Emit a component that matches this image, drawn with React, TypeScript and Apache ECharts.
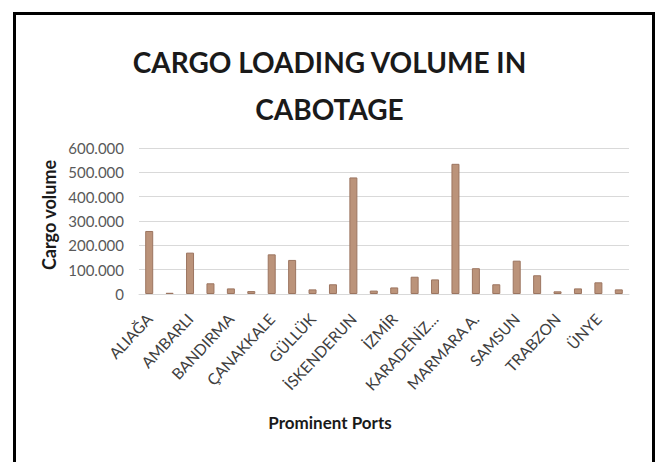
import React, { useEffect, useRef } from "react";
import * as echarts from "echarts";

// Ports in alphabetical order; only every other name is printed on the axis.
const ports: string[] = [
  "ALIAĞA", "ALTINOLUK", "AMBARLI", "ANTALYA", "BANDIRMA", "BARTIN",
  "ÇANAKKALE", "GEMLİK", "GÜLLÜK", "HOPA", "İSKENDERUN", "İSTANBUL",
  "İZMİR", "İZMİT", "KARADENİZ EREĞLİ", "KOCAELİ", "MARMARA A.", "MERSİN",
  "SAMSUN", "TEKİRDAĞ", "TRABZON", "TUZLA", "ÜNYE", "ZONGULDAK",
];

// Cargo loaded in cabotage per port
const cargoVolume: number[] = [
  259000, 5000, 170000, 44000, 23000, 12000,
  163000, 140000, 19000, 40000, 479000, 14000,
  27000, 71000, 60000, 535000, 106000, 40000,
  137000, 77000, 11000, 23000, 48000, 19000,
];

const yTicks = { min: 0, max: 600000, step: 100000 };

const FONT = "Lato, 'Open Sans', sans-serif";

function formatThousands(v: number): string {
  return v === 0 ? "0" : String(v).replace(/\B(?=(\d{3})+(?!\d))/g, ".");
}

export default function App() {
  const ref = useRef<HTMLDivElement>(null);

  useEffect(() => {
    document.body.style.margin = "0";
    if (!ref.current) return;
    const chart = echarts.init(ref.current, undefined, { renderer: "svg" });
    chart.setOption({
      animation: false,
      backgroundColor: "#ffffff",
      title: {
        text: "CARGO LOADING VOLUME IN\nCABOTAGE",
        left: "center",
        top: 33,
        textStyle: {
          fontFamily: FONT,
          fontWeight: "bold",
          fontSize: 28,
          lineHeight: 47,
          color: "#1a1a1a",
        },
      },
      grid: { left: 139, right: 30, top: 148, bottom: 168 },
      xAxis: {
        type: "category",
        data: ports,
        axisLine: { lineStyle: { color: "#d9d9d9" } },
        axisTick: { show: false },
        axisLabel: {
          interval: 1,
          rotate: 47,
          margin: 22,
          fontFamily: FONT,
          fontSize: 15.5,
          color: "#404040",
          formatter: (name: string) =>
            name.length > 12 ? name.slice(0, 9) + "..." : name,
        },
      },
      yAxis: {
        type: "value",
        min: yTicks.min,
        max: yTicks.max,
        interval: yTicks.step,
        axisLine: { show: false },
        axisTick: { show: false },
        splitLine: { lineStyle: { color: "#d9d9d9", width: 1 } },
        axisLabel: {
          margin: 15,
          fontFamily: FONT,
          fontSize: 15,
          color: "#595959",
          formatter: (v: number) => formatThousands(v),
        },
      },
      series: [
        {
          type: "bar",
          data: cargoVolume,
          barWidth: 8,
          itemStyle: {
            color: "#bb937a",
            borderColor: "#9c7560",
            borderWidth: 1,
          },
        },
      ],
      graphic: [
        {
          type: "rect",
          shape: { x: 14.5, y: 13.5, width: 639, height: 500 },
          style: { fill: "none", stroke: "#000000", lineWidth: 3 },
          silent: true,
        },
        {
          type: "text",
          x: 49,
          y: 215,
          rotation: Math.PI / 2,
          style: {
            text: "Cargo volume",
            fontFamily: FONT,
            fontWeight: "bold",
            fontSize: 18,
            fill: "#1a1a1a",
            align: "center",
            verticalAlign: "middle",
          },
        },
        {
          type: "text",
          x: 330,
          y: 422,
          style: {
            text: "Prominent Ports",
            fontFamily: FONT,
            fontWeight: "bold",
            fontSize: 17,
            fill: "#1a1a1a",
            align: "center",
            verticalAlign: "middle",
          },
        },
      ],
    });
    return () => chart.dispose();
  }, []);

  return (
    <div
      ref={ref}
      style={{ position: "fixed", left: 0, top: 0, width: 659, height: 462 }}
    />
  );
}
